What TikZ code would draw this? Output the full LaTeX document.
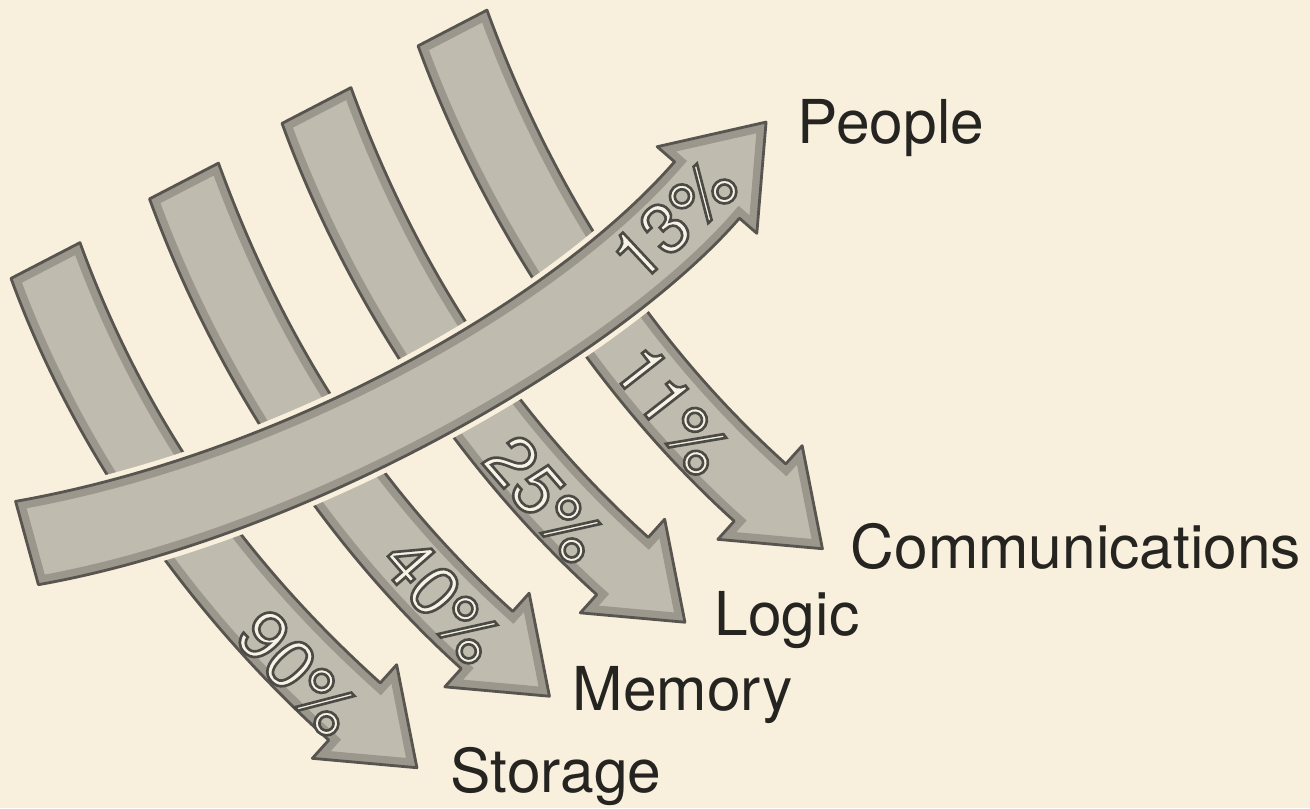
\documentclass[tikz,border=0pt]{standalone}
\usepackage{fontspec}
\setmainfont{TeX Gyre Heros}
\usetikzlibrary{calc}
\definecolor{paper}{RGB}{248,240,221}
\definecolor{bandfill}{RGB}{192,187,175}
\definecolor{bandedge}{RGB}{88,85,80}
\definecolor{pctfill}{RGB}{247,242,230}
\definecolor{inkcol}{RGB}{38,36,33}
\def\bandW{38.5}\def\headW{63}\def\headL{84}\def\slantK{5}
% #1 start centre, #2 start angle, #3 end centre (head base), #4 end angle, #5/#6 control lengths
\newcommand\bandpath[6]{($(#1)+({#2+90}:\bandW)+(#2:\slantK)$)
  .. controls +(#2:#5) and +({#4+180}:#6) .. ($(#3)+({#4+90}:\bandW)$)
  -- ($(#3)+({#4+90}:\headW)$) -- ($(#3)+(#4:\headL)$) -- ($(#3)+({#4-90}:\headW)$)
  -- ($(#3)+({#4-90}:\bandW)$)
  .. controls +({#4+180}:#6) and +(#2:#5) .. ($(#1)+({#2-90}:\bandW)-(#2:\slantK)$) -- cycle}
\newcommand\drawband[6]{%
  \fill[bandbody] \bandpath{#1}{#2}{#3}{#4}{#5}{#6};
  \begin{scope}
    \clip \bandpath{#1}{#2}{#3}{#4}{#5}{#6};
    \draw[bandshade] \bandpath{#1}{#2}{#3}{#4}{#5}{#6};
  \end{scope}
  \draw[bandrim] \bandpath{#1}{#2}{#3}{#4}{#5}{#6};}
\newcommand\outl[1]{\special{pdf:literal direct 0.30 0.29 0.27 RG 2 Tr 0.75 w}#1\special{pdf:literal direct 0 Tr}}
\tikzset{
  bandbody/.style={fill=bandfill},
  bandshade/.style={draw=bandedge, line width=5pt, opacity=0.35},
  bandrim/.style={draw=bandedge, line width=0.8pt, line join=round},
  gaprim/.style={draw=paper, line width=3.6pt, line join=round},
  pct/.style={text=pctfill, inner sep=0pt, font=\fontsize{20}{22}\selectfont},
  biglabel/.style={text=inkcol, inner sep=0pt, anchor=base west, font=\fontsize{17.2}{20}\selectfont}
}
\begin{document}
\begin{tikzpicture}[x=0.01cm, y=-0.01cm]
\fill[paper] (0,0) rectangle (1310,808);
\useasboundingbox (0,0) rectangle (1310,808);
\coordinate (stoS) at (45.5,260.5); \coordinate (stoE) at (354.5,711.5);
\coordinate (memS) at (184,181);    \coordinate (memE) at (487,640);
\coordinate (logS) at (316.5,105.5);\coordinate (logE) at (622.5,566);
\coordinate (comS) at (452.5,28);   \coordinate (comE) at (760,492.5);
\coordinate (peoS) at (27,543);     \coordinate (peoE) at (707,190);
% four downward arrows
\drawband{stoS}{70}{stoE}{42}{185}{185}
\drawband{memS}{70}{memE}{42}{185}{185}
\drawband{logS}{70}{logE}{42}{185}{185}
\drawband{comS}{70}{comE}{42}{185}{185}
% upward arrow on top
\def\bandW{43}\def\headW{66}\def\headL{90}\def\slantK{4}
\draw[gaprim] \bandpath{peoS}{-10}{peoE}{-49}{270}{185};
\drawband{peoS}{-10}{peoE}{-49}{270}{185}
% percentages
\node[pct, rotate=-47] (p90) at (298,673) {\outl{90\%}};
\node[pct, rotate=-49] (p40) at (442,600) {\outl{40\%}};
\node[pct, rotate=-49] (p25) at (545,499) {\outl{25\%}};
\node[pct, rotate=-52] (p11) at (672,410) {\outl{11\%}};
\node[pct, rotate=43] (p13) at (674,220) {\outl{13\%}};
% labels
\node[biglabel] (people) at (797,143) {People};
\node[biglabel] (comm) at (850,568) {Communications};
\node[biglabel] (logic) at (714,635) {Logic};
\node[biglabel] (memory) at (572,710) {Memory};
\node[biglabel] (storage) at (450,792) {Storage};
\end{tikzpicture}
\end{document}
